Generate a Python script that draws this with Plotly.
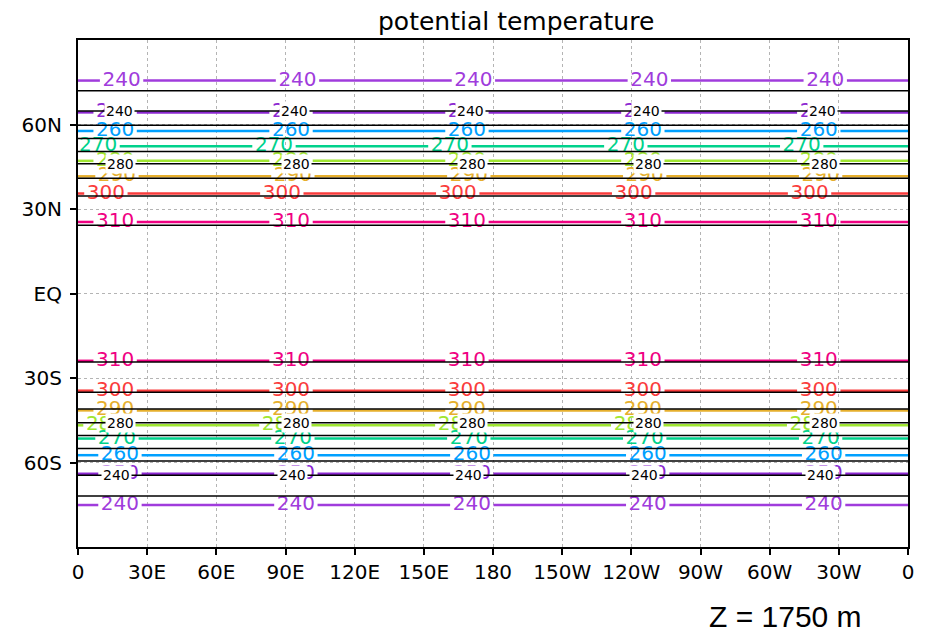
import plotly.graph_objects as go

# Zonal-mean potential temperature (K) at Z = 1750 m: latitude of each isentrope
theta_levels = [240, 250, 260, 270, 280, 290, 300, 310]
lat_north = [75.6, 64.3, 57.7, 52.3, 47.1, 41.6, 35.5, 25.4]
lat_south = [-75.1, -64.0, -57.4, -51.5, -46.8, -41.5, -34.5, -23.9]

# Overlaid reference field (black contours)
ref_levels = [230, 240, 250, 260, 270, 280, 290, 300, 310]
ref_north = [72.0, 64.8, 59.7, 55.0, 50.4, 46.1, 40.9, 34.6, 24.2]
ref_south = [-71.9, -64.5, -59.5, -55.0, -50.4, -45.9, -41.0, -35.1, -24.3]
ref_labelled = [240, 280]

lon_ticks = [0, 30, 60, 90, 120, 150, 180, 210, 240, 270, 300, 330, 360]
lon_labels = ["0", "30E", "60E", "90E", "120E", "150E", "180",
              "150W", "120W", "90W", "60W", "30W", "0"]
lat_ticks = [-60, -30, 0, 30, 60]
lat_labels = ["60S", "30S", "EQ", "30N", "60N"]

level_colors = {
    240: "#a03cdc", 250: "#8c28d2", 260: "#00a0ff", 270: "#00d28c",
    280: "#a0e632", 290: "#e6af2d", 300: "#fa3c3c", 310: "#f00082",
}

# first label longitude of each contour, labels then repeat along the line
label_start_north = {240: 18.9, 250: 16.1, 260: 16.1, 270: 8.7,
                     280: 16.1, 290: 16.9, 300: 12.1, 310: 16.1}
label_start_south = {240: 18.2, 250: 18.2, 260: 18.2, 270: 16.9,
                     280: 11.7, 290: 16.1, 300: 16.1, 310: 16.1}
ref_label_start_north = {240: 17.8, 280: 18.6}
ref_label_start_south = {240: 16.9, 280: 18.6}
LABEL_STEP = 76.3
N_LABELS = 5
HALF_GAP = 9.4

FONT = "DejaVu Sans"


def label_lons(start):
    return [start + k * LABEL_STEP for k in range(N_LABELS)]


def broken_line(lat, lons):
    xs, ys = [], []
    start = 0.0
    for lon in lons:
        end = lon - HALF_GAP
        if end > start:
            xs += [start, end, None]
            ys += [lat, lat, None]
        start = lon + HALF_GAP
    xs += [start, 360]
    ys += [lat, lat]
    return xs, ys


fig = go.Figure()

# coloured isentropes, broken where their labels sit
for i, lev in enumerate(theta_levels):
    col = level_colors[lev]
    xs, ys = [], []
    tx, ty = [], []
    for lat, starts in ((lat_north[i], label_start_north), (lat_south[i], label_start_south)):
        lons = label_lons(starts[lev])
        bx, by = broken_line(lat, lons)
        xs += bx + [None]
        ys += by + [None]
        tx += lons
        ty += [lat] * len(lons)
    fig.add_trace(go.Scatter(x=xs, y=ys, mode="lines",
                             line=dict(color=col, width=2.5),
                             hoverinfo="skip", showlegend=False))
    fig.add_trace(go.Scatter(x=tx, y=ty, mode="text", text=[str(lev)] * len(tx),
                             textposition="middle center",
                             textfont=dict(family=FONT, size=20, color=col),
                             hoverinfo="skip", showlegend=False))

# black reference contours drawn on top
for i, lev in enumerate(ref_levels):
    for lat in (ref_north[i], ref_south[i]):
        fig.add_trace(go.Scatter(x=[0, 360], y=[lat, lat], mode="lines",
                                 line=dict(color="black", width=1.5),
                                 hoverinfo="skip", showlegend=False))

for i, lev in enumerate(ref_levels):
    if lev not in ref_labelled:
        continue
    for lat, starts in ((ref_north[i], ref_label_start_north), (ref_south[i], ref_label_start_south)):
        for lon in label_lons(starts[lev]):
            fig.add_annotation(x=lon, y=lat, text=str(lev), showarrow=False,
                               xref="x", yref="y", bgcolor="white", borderpad=1,
                               font=dict(family=FONT, size=14, color="black"))

fig.add_annotation(text="potential temperature", xref="paper", yref="paper",
                   x=0.5277, y=1.036, xanchor="center", yanchor="middle",
                   showarrow=False, font=dict(family=FONT, size=25, color="black"))
fig.add_annotation(text="Z = 1750 m", xref="paper", yref="paper",
                   x=0.853, y=-0.137, xanchor="center", yanchor="middle",
                   showarrow=False, font=dict(family="Liberation Sans", size=30, color="black"))

axis_common = dict(showline=True, mirror=True, linecolor="black", linewidth=2,
                   ticks="outside", ticklen=6, tickwidth=2, tickcolor="black",
                   showgrid=True, gridcolor="#b4b4b4", gridwidth=1, griddash="dot",
                   zeroline=False, tickfont=dict(family=FONT, size=20, color="black"))

fig.update_xaxes(range=[0, 360], tickmode="array", tickvals=lon_ticks,
                 ticktext=lon_labels, **axis_common)
fig.update_yaxes(range=[-90, 90], tickmode="array", tickvals=lat_ticks,
                 ticktext=lat_labels, ticklabelstandoff=4, **axis_common)

fig.update_layout(width=926, height=635, margin=dict(l=78, r=18, t=40, b=88),
                  paper_bgcolor="white", plot_bgcolor="white")

fig.write_html("out.html")
